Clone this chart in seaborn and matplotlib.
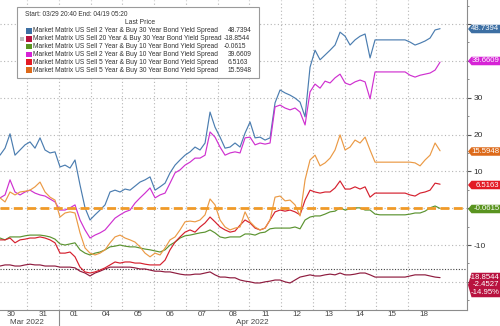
import numpy as np
import pandas as pd
import matplotlib
matplotlib.use("Agg")
import matplotlib.pyplot as plt
import seaborn as sns
from matplotlib.patches import Rectangle, Polygon
from matplotlib.ticker import MultipleLocator, FixedLocator

sns.set_theme(style="white")
plt.rcParams['font.family'] = ['Liberation Sans', 'DejaVu Sans']

# ---------------- data ----------------
# session time in trading days (0 = start of Mar 30 session), one sample every ~3.8 session hours
t_days = np.round(0.15 + 0.1575 * np.arange(89), 3)

day_labels = ["30", "31", "01", "04", "05", "06", "07", "08", "11", "12", "13", "14", "15", "18"]
month_labels = ["Mar 2022", "Apr 2022"]

names = [
    "Market Matrix US Sell 2 Year & Buy 30 Year Bond Yield Spread",
    "Market Matrix US Sell 20 Year & Buy 30 Year Bond Yield Spread",
    "Market Matrix US Sell 7 Year & Buy 10 Year Bond Yield Spread",
    "Market Matrix US Sell 2 Year & Buy 10 Year Bond Yield Spread",
    "Market Matrix US Sell 5 Year & Buy 10 Year Bond Yield Spread",
    "Market Matrix US Sell 5 Year & Buy 30 Year Bond Yield Spread",
]
last_values = ["48.7394", "-18.8544", "-0.0615", "39.6609", "6.5163", "15.5948"]
s20s30_change = "-2.4527"
s20s30_pct = "-14.95%"
s20s30_start = -16.4017

s2s30 = [14.4, 16.3, 20.2, 14.4, 15.8, 17.2, 18.0, 16.3, 19.1, 15.8,
         15.0, 15.3, 11.2, 11.7, 10.9, 13.1, 6.3, 0.1, -3.2, -1.8,
         -0.5, 0.9, 4.4, 4.9, 4.4, 5.2, 4.9, 6.0, 7.1, 7.7,
         8.5, 4.9, 5.8, 6.8, 9.6, 11.7, 13.1, 14.4, 15.3, 16.6,
         15.8, 17.7, 26.1, 22.0, 19.3, 16.3, 16.6, 17.7, 16.6, 20.4,
         23.4, 19.1, 19.3, 18.5, 19.1, 28.6, 32.1, 31.3, 30.7, 29.9,
         28.8, 24.8, 38.3, 42.9, 40.3, 41.6, 42.9, 44.3, 47.8, 46.7,
         44.3, 45.7, 46.7, 47.3, 40.8, 45.7, 45.7, 45.7, 45.7, 45.7,
         45.7, 45.7, 45.1, 44.3, 44.8, 45.4, 46.2, 48.4, 48.74]

s2s10 = [2.8, 3.6, 7.7, 4.4, 3.6, 4.4, 4.9, 4.1, 3.6, 3.3,
         2.5, 1.7, -0.5, -0.5, 0.1, 0.9, -3.2, -5.9, -8.1, -7.3,
         -6.7, -5.9, -4.3, -2.7, -1.8, -1.0, -0.5, 1.4, 2.8, 4.1,
         5.5, 2.8, 3.6, 4.1, 6.8, 9.6, 10.4, 11.7, 12.5, 13.6,
         13.6, 14.4, 20.7, 19.3, 16.6, 14.4, 15.0, 15.3, 15.0, 19.1,
         19.3, 17.2, 17.7, 17.4, 17.7, 27.5, 28.0, 27.2, 26.7, 27.2,
         26.1, 22.6, 31.6, 33.7, 32.6, 34.5, 34.0, 35.4, 36.4, 34.0,
         33.5, 34.3, 34.8, 34.3, 29.7, 37.0, 37.0, 37.0, 37.0, 37.0,
         37.0, 37.0, 36.1, 35.6, 36.1, 36.4, 36.7, 37.5, 39.66]

s5s30 = [2.8, 1.7, 4.4, 3.6, 4.4, 4.6, 4.9, 5.8, 7.1, 4.4,
         3.0, 2.2, -2.4, -1.3, -1.0, -1.3, -6.7, -10.8, -12.2, -12.7,
         -12.2, -11.3, -9.4, -7.8, -7.3, -8.1, -8.6, -9.2, -10.5, -12.2,
         -13.2, -12.2, -12.7, -10.8, -8.6, -7.8, -5.9, -3.7, -3.5, -3.7,
         -3.2, -1.8, 2.5, 0.9, -3.2, -5.1, -5.9, -5.4, -5.1, -1.0,
         -3.7, -5.1, -5.9, -5.4, -3.2, 3.0, 3.3, 2.0, 2.2, 0.9,
         -2.1, 7.7, 13.1, 14.4, 11.5, 12.3, 13.6, 15.8, 19.9, 15.8,
         16.6, 18.5, 17.7, 19.3, 15.8, 12.5, 12.5, 12.5, 12.5, 12.5,
         12.5, 12.5, 12.5, 12.3, 11.5, 13.1, 14.4, 17.7, 15.59]

s5s10 = [-8.6, -8.6, -8.1, -9.4, -8.6, -8.4, -8.1, -8.1, -7.8, -8.1,
         -8.6, -9.4, -12.2, -12.2, -11.9, -13.2, -16.0, -17.3, -17.6, -17.3,
         -16.8, -16.2, -15.4, -14.6, -14.9, -14.6, -14.6, -14.9, -14.9, -15.2,
         -15.4, -15.4, -15.4, -14.1, -11.3, -9.2, -7.8, -6.5, -5.9, -6.5,
         -5.1, -4.0, -2.4, -3.7, -5.1, -5.9, -6.5, -6.2, -4.6, -3.2,
         -4.0, -5.4, -5.9, -5.4, -3.2, -1.0, -0.5, -0.8, -0.5, -1.0,
         -1.8, 2.2, 4.9, 4.4, 4.1, 4.4, 4.4, 5.5, 7.4, 5.2,
         5.2, 5.8, 5.2, 5.8, 3.0, 4.1, 4.1, 4.1, 4.1, 4.1,
         4.1, 4.1, 3.6, 3.3, 4.1, 4.4, 4.9, 6.8, 6.52]

s7s10 = [-8.1, -8.6, -7.8, -7.8, -7.8, -7.5, -7.3, -7.3, -7.3, -7.5,
         -7.8, -8.4, -9.7, -10.0, -9.7, -9.4, -11.3, -12.2, -12.7, -12.2,
         -11.9, -11.3, -10.5, -10.3, -10.0, -10.3, -10.5, -10.5, -10.8, -11.1,
         -11.3, -11.6, -11.9, -11.3, -10.0, -9.2, -8.1, -7.5, -7.3, -7.0,
         -6.7, -6.5, -5.9, -6.7, -7.8, -8.1, -7.8, -7.8, -7.8, -7.0,
         -7.0, -7.3, -6.7, -6.5, -5.6, -5.4, -5.4, -5.4, -5.4, -5.1,
         -5.6, -3.2, -2.4, -2.1, -2.1, -1.6, -1.0, -0.8, 0.1, -0.5,
         -0.2, 0.1, 0.1, -0.5, -0.5, -1.6, -1.8, -1.8, -1.8, -1.8,
         -1.8, -1.8, -1.6, -1.3, -1.3, -0.8, 0.1, 0.6, -0.06]

s20s30 = [-15.7, -15.4, -15.4, -15.7, -15.7, -15.4, -15.2, -15.4, -15.4, -15.7,
          -15.7, -15.7, -16.0, -16.0, -16.0, -16.2, -17.1, -17.6, -18.4, -17.6,
          -17.1, -16.5, -16.0, -16.0, -16.0, -16.0, -16.0, -16.2, -16.5, -16.5,
          -16.8, -17.1, -17.1, -17.3, -17.3, -17.6, -17.9, -18.1, -18.1, -17.9,
          -17.9, -17.6, -17.3, -18.1, -18.7, -18.7, -18.9, -18.9, -19.5, -19.8,
          -20.0, -20.3, -20.3, -20.0, -19.8, -19.5, -19.5, -20.0, -20.3, -19.5,
          -18.7, -18.4, -18.1, -18.4, -18.4, -18.1, -17.9, -18.1, -17.6, -18.1,
          -18.1, -17.9, -17.6, -17.6, -18.1, -18.7, -18.7, -18.7, -18.7, -18.7,
          -18.7, -18.7, -18.4, -18.1, -18.1, -18.1, -18.4, -18.7, -18.85]

series_vals = [s2s30, s20s30, s7s10, s2s10, s5s10, s5s30]
line_colors = ["#4b7db0", "#8e1b3e", "#5b9330", "#cf30d0", "#d5202e", "#eb9a45"]
box_colors = ["#3d6fa3", "#b8123f", "#5a9420", "#d623d6", "#e31b25", "#dd6a1a"]

df = pd.concat([pd.DataFrame({"t": t_days, "v": v, "series": n})
                for n, v in zip(names, series_vals)], ignore_index=True)

# ---------------- figure ----------------
W, H = 500, 326
fig = plt.figure(figsize=(W / 100, H / 100), dpi=100)
ax_right, ax_bottom_px = 467, 310
ax = fig.add_axes([0, 1 - ax_bottom_px / H, ax_right / W, ax_bottom_px / H])

ppu = 3.683
zero_px = 208.2
ymax = zero_px / ppu
ymin = (zero_px - ax_bottom_px) / ppu
x_of_px = lambda px: (px + 4.75) / 31.75
ax.set_xlim(x_of_px(0), x_of_px(ax_right))
ax.set_ylim(ymin, ymax)

# grid
ax.yaxis.set_major_locator(MultipleLocator(10))
ax.yaxis.set_minor_locator(MultipleLocator(5))
ax.xaxis.set_major_locator(FixedLocator(np.arange(len(day_labels)) + 0.5))
ax.xaxis.set_minor_locator(FixedLocator(np.arange(1, len(day_labels))))
ax.yaxis.grid(True, which="major", ls=(0, (1, 2.2)), color="#b5b5b5", lw=0.8)
ax.xaxis.grid(True, which="minor", ls=(0, (1, 2.2)), color="#b5b5b5", lw=0.8)
ax.set_axisbelow(True)

palette = dict(zip(names, line_colors))
sns.lineplot(data=df, x="t", y="v", hue="series", palette=palette, lw=0.85,
             legend=False, ax=ax, sort=False, estimator=None, zorder=3)

# zero dashed line and start reference line
ax.axhline(0, color="#f09a28", lw=2.0, ls=(0, (3.2, 1.6)), zorder=5)
ax.axhline(s20s30_start, color="#444444", lw=0.8, ls=(0, (1, 1.5)), zorder=2)

# axes styling
for s in ["left", "top"]:
    ax.spines[s].set_visible(False)
for s in ["right", "bottom"]:
    ax.spines[s].set_color("#8c8c8c")
    ax.spines[s].set_linewidth(0.8)
ax.yaxis.tick_right()
ax.tick_params(axis="y", which="major", direction="out", length=3, width=0.8,
               color="#555555", labelsize=6, labelcolor="#333333", pad=1.5)
ax.tick_params(axis="y", which="minor", direction="out", length=1.5, width=0.6, color="#777777")
ax.tick_params(axis="x", which="major", length=0, labelsize=5.8, labelcolor="#444444", pad=1)
ax.tick_params(axis="x", which="minor", length=0)
ax.set_xticklabels(day_labels)
# tick labels that sit behind the value tags are not visible in the reference
hidden = {50, 40, 0, -20}
ax.set_yticklabels(["" if int(v) in hidden else f"{int(v)}" for v in ax.get_yticks()])
ax.set_xlabel("")
ax.set_ylabel("")

# month labels and separator
def fx(px):
    return px / W

def fy(py):
    return 1 - py / H

fig.text(fx(26.5), fy(322.5), month_labels[0], fontsize=5.8, color="#444444", ha="center", va="center")
fig.text(fx(252), fy(322.5), month_labels[1], fontsize=5.8, color="#444444", ha="center", va="center")
fig.add_artist(plt.Line2D([fx(59), fx(59)], [fy(310), fy(326)], color="#8c8c8c", lw=0.8))

# ---------------- legend box ----------------
fig.add_artist(Rectangle((fx(17), fy(78)), (259 - 17) / W, (78 - 7) / H,
                         transform=fig.transFigure, facecolor="white",
                         edgecolor="#9a9a9a", lw=0.8, zorder=6))
fig.text(fx(25), fy(15), "Start: 03/29 20:40 End: 04/19 05:20", fontsize=4.7,
         color="#333333", ha="left", va="center", zorder=7)
fig.text(fx(140), fy(23), "Last Price", fontsize=4.9, color="#333333",
         ha="center", va="center", zorder=7)
row_y = [31, 38.8, 46.6, 54.4, 62.2, 70]
fig.add_artist(Rectangle((fx(20), fy(40.8)), 4 / W, 4 / H, transform=fig.transFigure,
                         facecolor="#c0c0c0", edgecolor="none", zorder=7))
for name, col, val, cy in zip(names, box_colors, last_values, row_y):
    fig.add_artist(Rectangle((fx(26), fy(cy + 2.7)), 5.5 / W, 5.5 / H,
                             transform=fig.transFigure, facecolor=col,
                             edgecolor="none", zorder=7))
    fig.text(fx(33), fy(cy), name, fontsize=4.75, color="#333333",
             ha="left", va="center", zorder=7)
    vx = 224 if val.startswith("-") else 228
    fig.text(fx(vx), fy(cy), val, fontsize=4.75, color="#333333",
             ha="left", va="center", zorder=7)

# ---------------- right value tags ----------------
def tag(cy, lines, col, h=8.5):
    top, bot = cy - h / 2, cy + h / 2
    pts = [(fx(468), fy(cy)), (fx(471.5), fy(top)), (fx(500), fy(top)),
           (fx(500), fy(bot)), (fx(471.5), fy(bot))]
    fig.add_artist(Polygon(pts, closed=True, transform=fig.transFigure,
                           facecolor=col, edgecolor="none", zorder=8))
    n = len(lines)
    for i, txt in enumerate(lines):
        ly = cy + (i - (n - 1) / 2) * 7.6
        fig.text(fx(499.5), fy(ly), txt, fontsize=5.6, color="white",
                 ha="right", va="center", zorder=9)

tag(29, [last_values[0]], box_colors[0])
tag(61, [last_values[3]], box_colors[3])
tag(151.5, [last_values[5]], box_colors[5])
tag(185, [last_values[4]], box_colors[4])
tag(209, [last_values[2]], box_colors[2])
tag(285, [last_values[1], s20s30_change, s20s30_pct], box_colors[1], h=24.5)

fig.savefig("out.png", dpi=100)
